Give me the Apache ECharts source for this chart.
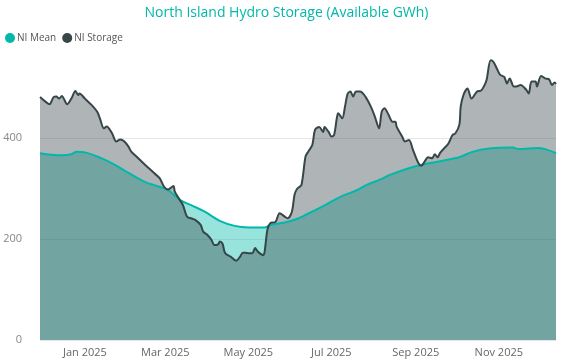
<!DOCTYPE html>
<html>
<head>
<meta charset="utf-8">
<script src="https://cdn.jsdelivr.net/npm/echarts@6/dist/echarts.min.js"></script>
<style>html,body{margin:0;padding:0;background:#fff}#c{width:573px;height:360px}</style>
</head>
<body>
<div id="c"></div>
<script>
const titleText = 'North Island Hydro Storage (Available GWh)';
const seriesNames = ['NI Mean', 'NI Storage'];

const storageDates = ['2024-11-29','2024-12-03','2024-12-06','2024-12-09','2024-12-11','2024-12-13','2024-12-15','2024-12-19','2024-12-22','2024-12-25','2024-12-27','2024-12-28',
'2025-01-01','2025-01-06','2025-01-10','2025-01-12','2025-01-15','2025-01-17','2025-01-21','2025-01-24','2025-01-27','2025-01-30',
'2025-02-02','2025-02-04','2025-02-08','2025-02-13','2025-02-17','2025-02-21','2025-02-25','2025-02-28',
'2025-03-03','2025-03-07','2025-03-08','2025-03-11','2025-03-14','2025-03-17','2025-03-20','2025-03-23','2025-03-27','2025-03-29',
'2025-04-01','2025-04-04','2025-04-06','2025-04-09','2025-04-10','2025-04-12','2025-04-14','2025-04-18','2025-04-22','2025-04-25','2025-04-27',
'2025-05-01','2025-05-04','2025-05-06','2025-05-08','2025-05-12','2025-05-13','2025-05-15','2025-05-17','2025-05-21','2025-05-24','2025-05-28','2025-05-30',
'2025-06-02','2025-06-04','2025-06-06','2025-06-09','2025-06-12','2025-06-14','2025-06-17','2025-06-19','2025-06-22','2025-06-25','2025-06-26','2025-06-29',
'2025-07-01','2025-07-03','2025-07-05','2025-07-06','2025-07-09','2025-07-11','2025-07-13','2025-07-15','2025-07-17','2025-07-19','2025-07-22','2025-07-26','2025-07-30',
'2025-08-02','2025-08-05','2025-08-07','2025-08-09','2025-08-12','2025-08-15','2025-08-17','2025-08-18','2025-08-22','2025-08-24','2025-08-27','2025-08-30',
'2025-09-03','2025-09-05','2025-09-07','2025-09-10','2025-09-13','2025-09-15','2025-09-17','2025-09-19','2025-09-22','2025-09-25','2025-09-28','2025-09-30',
'2025-10-03','2025-10-04','2025-10-06','2025-10-09','2025-10-12','2025-10-16','2025-10-19','2025-10-21','2025-10-23','2025-10-26','2025-10-28','2025-10-31',
'2025-11-02','2025-11-05','2025-11-07','2025-11-09','2025-11-12','2025-11-14','2025-11-17','2025-11-21','2025-11-23','2025-11-25','2025-11-28','2025-11-29',
'2025-12-02','2025-12-05','2025-12-08','2025-12-10','2025-12-12','2025-12-13'];
const storageValues = [481,472,467,481,482,478,483,467,478,493,485,488,
478,465,452,439,419,423,409,393,397,393,
383,373,363,350,340,330,320,304,
298,305,294,280,267,244,241,238,228,214,
208,198,188,190,195,191,172,165,157,165,173,
172,172,182,175,168,175,218,231,234,251,244,241,
254,288,300,307,363,373,386,416,422,412,422,412,
403,406,439,449,439,462,488,492,482,492,492,482,462,
442,419,452,459,446,432,432,422,403,393,396,376,
350,345,351,362,360,368,362,371,380,389,406,409,
426,462,485,498,478,492,494,502,515,554,551,535,
525,521,508,518,502,502,505,496,488,512,512,502,
523,518,516,505,510,507];

const meanDates = ['2024-11-29','2024-12-15','2024-12-22','2024-12-26','2025-01-02','2025-01-13','2025-01-23','2025-02-02','2025-02-14','2025-02-24',
'2025-03-03','2025-03-12','2025-03-20','2025-03-30','2025-04-10','2025-04-21','2025-05-01','2025-05-13','2025-05-18','2025-05-26',
'2025-06-04','2025-06-13','2025-06-25','2025-07-08','2025-07-20','2025-07-27','2025-08-06','2025-08-13','2025-08-28','2025-09-07',
'2025-09-17','2025-09-26','2025-10-04','2025-10-12','2025-10-25','2025-11-11','2025-11-16','2025-11-29','2025-12-05','2025-12-13'];
const meanValues = [370,366,368,373,371,360,347,331,313,304,
297,277,267,254,236,226,223,223,228,232,
238,249,265,284,297,307,318,327,341,348,
353,358,363,372,379,381,378,380,378,370];

const xTickDates = ['2025-01-01','2025-03-01','2025-05-01','2025-07-01','2025-09-01','2025-11-01'];
const xTickLabels = ['Jan 2025','Mar 2025','May 2025','Jul 2025','Sep 2025','Nov 2025'];
const yTicks = [0, 200, 400];

function ts(s){ const p = s.split('-').map(Number); return Date.UTC(p[0], p[1]-1, p[2]); }
const storageData = storageDates.map((d,i)=>[ts(d), storageValues[i]]);
const meanData = meanDates.map((d,i)=>[ts(d), meanValues[i]]);
const tickTs = xTickDates.map(ts);
const labelMap = {}; tickTs.forEach((t,i)=>labelMap[t]=xTickLabels[i]);

const TEAL = '#01B8AA', DARK = '#374649';
const FONT = '"Open Sans", "Noto Sans", sans-serif';

const chart = echarts.init(document.getElementById('c'), null, {renderer:'canvas'});
chart.setOption({
  animation: false,
  textStyle: {fontFamily: FONT},
  title: {text: titleText, left: 'center', top: 1, textStyle: {color: TEAL, fontSize: 14, fontWeight: 'normal', fontFamily: FONT}},
  legend: {data: seriesNames, left: 0, top: 28, icon: 'circle', itemWidth: 10, itemHeight: 10, itemGap: 6,
    textStyle: {color: '#555', fontSize: 10, fontFamily: FONT, padding: [0, 0, 0, -3]}},
  grid: {left: 40, right: 17, top: 37, bottom: 20, containLabel: false},
  xAxis: {type: 'value', min: ts(storageDates[0]), max: ts(storageDates[storageDates.length-1]),
    axisLine: {show: false}, axisTick: {show: false}, splitLine: {show: false},
    axisLabel: {customValues: tickTs, formatter: v => labelMap[v] || '', color: '#666', fontSize: 11, margin: 7, fontFamily: FONT}},
  yAxis: {type: 'value', min: 0, max: 600, interval: 200,
    axisLine: {show: false}, axisTick: {show: false},
    splitLine: {show: true, showMaxLine: false, lineStyle: {color: '#E6E6E6', width: 1}},
    axisLabel: {customValues: yTicks, color: '#888', fontSize: 11, margin: 18, fontFamily: FONT}},
  series: [
    {name: seriesNames[0], type: 'line', data: meanData, smooth: 0.4, symbol: 'none', color: TEAL,
      lineStyle: {width: 0}, areaStyle: {color: TEAL, opacity: 0.4}, z: 1},
    {name: seriesNames[1], type: 'line', data: storageData, smooth: 0.3, symbol: 'none', color: DARK,
      lineStyle: {width: 0}, areaStyle: {color: DARK, opacity: 0.4}, z: 2},
    {name: seriesNames[0], type: 'line', data: meanData, smooth: 0.4, symbol: 'none', color: TEAL,
      lineStyle: {width: 2, color: TEAL}, z: 3},
    {name: seriesNames[1], type: 'line', data: storageData, smooth: 0.3, symbol: 'none', color: DARK,
      lineStyle: {width: 2, color: DARK}, z: 4}
  ]
});
</script>
</body>
</html>
